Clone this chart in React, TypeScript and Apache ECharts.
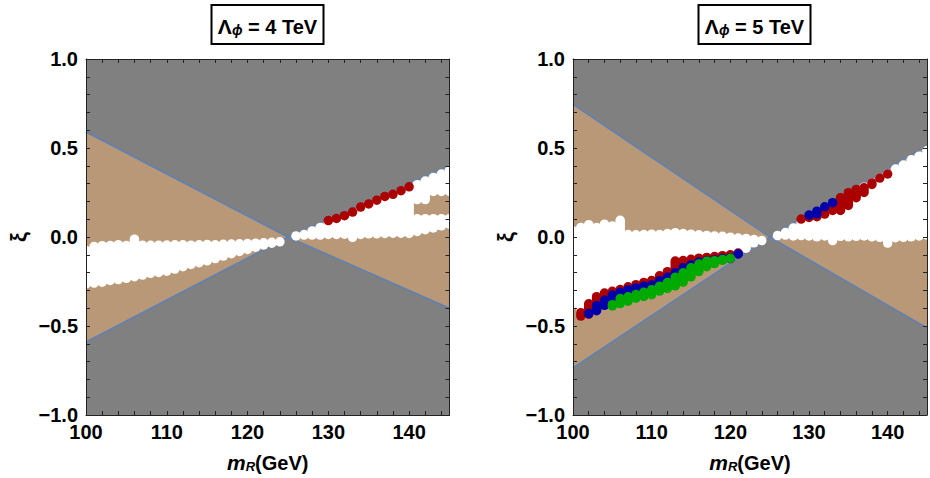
import React, { useEffect, useRef } from "react";
import * as echarts from "echarts";

// ---------- data ----------
const mRange = [100, 145];
const xiRange = [-1, 1];

// boundary lines of the allowed (tan) wedge: m values and xi values
const boundaryM = [100, 125, 145];
const upper4 = [0.59, 0, -0.4];
const lower4 = [-0.59, 0, 0.4];
const upper5 = [0.745, 0, -0.51];
const lower5 = [-0.735, 0, 0.51];

// Lambda = 4 TeV : white points, per column (m, lowest centre, highest centre)
const whiteM4 = [
  100, 101, 102, 103, 104, 105, 106, 107, 108, 109, 110, 111, 112, 113, 114, 115, 116, 117, 118, 119, 120, 121, 122, 123, 124,
  126, 127, 128, 129, 130, 131, 132, 133, 134, 135, 136, 137, 138, 139, 140,
  141, 141, 142, 142, 143, 143, 144, 144, 145, 145,
];
const whiteLo4 = [
  -0.264, -0.259, -0.254, -0.244, -0.239, -0.232, -0.223, -0.214, -0.204, -0.199, -0.192, -0.18, -0.167, -0.154, -0.144, -0.134, -0.121, -0.107, -0.094, -0.081, -0.07, -0.057, -0.045, -0.035, -0.027,
  0.006, 0.011, 0.011, 0.011, 0.014, 0.014, 0.016, -0.002, 0.014, 0.018, 0.018, 0.02, 0.021, 0.021, 0.02,
  0.031, 0.21, 0.041, 0.21, 0.051, 0.256, 0.063, 0.256, 0.072, 0.256,
];
const whiteHi4 = [
  -0.076, -0.054, -0.049, -0.048, -0.043, -0.048, -0.012, -0.046, -0.047, -0.046, -0.045, -0.044, -0.044, -0.046, -0.044, -0.042, -0.044, -0.041, -0.04, -0.038, -0.037, -0.035, -0.033, -0.03, -0.027,
  0.006, 0.014, 0.034, 0.054, 0.074, 0.094, 0.114, 0.134, 0.154, 0.174, 0.194, 0.214, 0.234, 0.254, 0.274,
  0.103, 0.294, 0.103, 0.314, 0.103, 0.334, 0.103, 0.354, 0.103, 0.374,
];
// Lambda = 4 TeV : red points
const redM4 = [130, 131, 132, 133, 134, 135, 136, 137, 138, 139, 140];
const redXi4 = [0.092, 0.104, 0.12, 0.14, 0.168, 0.186, 0.207, 0.228, 0.24, 0.26, 0.282];

// Lambda = 5 TeV : white points
const whiteM5 = [
  100, 101, 102, 103, 104, 105, 106, 107, 108, 109, 110, 111, 112, 113, 114, 115, 116, 117, 118, 119, 120, 121, 122, 123, 124,
  126, 127, 128, 129, 130, 131, 132, 133, 134, 135, 136, 137, 138, 139, 140, 141, 142, 143, 144, 145,
];
const whiteLo5 = [
  -0.374, -0.425, -0.375, -0.335, -0.315, -0.305, -0.295, -0.28, -0.268, -0.255, -0.245, -0.218, -0.195, -0.135, -0.132, -0.125, -0.119, -0.115, -0.11, -0.105, -0.1, -0.09, -0.063, -0.033, -0.02,
  0.008, 0.011, 0.006, 0.008, 0.006, 0.001, 0.006, -0.02, 0.004, 0.001, 0.004, 0.006, 0.001, -0.002, -0.034, -0.004, -0.002, 0.001, 0.006, 0.011,
];
const whiteHi5 = [
  0.034, 0.054, 0.069, 0.054, 0.072, 0.062, 0.094, 0.014, 0.012, 0.014, 0.016, 0.014, 0.019, 0.024, 0.019, 0.016, 0.012, 0.009, 0.006, 0.004, -0.001, -0.006, -0.008, -0.014, -0.02,
  0.008, 0.025, 0.05, 0.076, 0.1, 0.127, 0.152, 0.178, 0.203, 0.229, 0.254, 0.28, 0.304, 0.331, 0.354, 0.382, 0.404, 0.434, 0.454, 0.484,
];
// Lambda = 5 TeV : red points
const redM5 = [
  101, 102, 103, 104, 105, 106, 107, 108, 109, 110, 111, 112, 113, 114, 115, 116, 117, 118, 119, 120, 121,
  129, 130, 131, 132, 133, 134, 135, 136, 137, 138, 139, 140,
];
const redLo5 = [
  -0.444, -0.434, -0.4, -0.37, -0.326, -0.311, -0.296, -0.286, -0.276, -0.269, -0.246, -0.226, -0.201, -0.173, -0.156, -0.141, -0.133, -0.129, -0.121, -0.116, -0.095,
  0.101, 0.11, 0.114, 0.129, 0.149, 0.149, 0.177, 0.221, 0.25, 0.295, 0.331, 0.354,
];
const redHi5 = [
  -0.425, -0.375, -0.335, -0.315, -0.305, -0.295, -0.28, -0.268, -0.255, -0.245, -0.218, -0.195, -0.135, -0.132, -0.125, -0.119, -0.115, -0.11, -0.105, -0.1, -0.09,
  0.101, 0.11, 0.125, 0.15, 0.175, 0.22, 0.249, 0.267, 0.276, 0.304, 0.331, 0.354,
];
// Lambda = 5 TeV : blue points
const blueM5 = [102, 103, 104, 105, 106, 107, 108, 109, 110, 111, 112, 113, 114, 115, 116, 117, 118, 119, 120, 121, 130, 131, 132, 133];
const blueLo5 = [
  -0.43, -0.414, -0.384, -0.38, -0.346, -0.336, -0.323, -0.311, -0.296, -0.276, -0.256, -0.226, -0.201, -0.173, -0.152, -0.136, -0.133, -0.126, -0.121, -0.095,
  0.123, 0.13, 0.17, 0.193,
];
const blueHi5 = [
  -0.43, -0.386, -0.356, -0.326, -0.311, -0.296, -0.286, -0.276, -0.269, -0.246, -0.226, -0.201, -0.173, -0.156, -0.141, -0.133, -0.129, -0.121, -0.116, -0.095,
  0.123, 0.145, 0.17, 0.193,
];
// Lambda = 5 TeV : green points
const greenM5 = [105, 106, 107, 108, 109, 110, 111, 112, 113, 114, 115, 116, 117, 118, 119, 120];
const greenLo5 = [-0.387, -0.374, -0.361, -0.344, -0.334, -0.324, -0.304, -0.289, -0.274, -0.254, -0.224, -0.194, -0.167, -0.149, -0.131, -0.12];
const greenHi5 = [-0.38, -0.346, -0.336, -0.323, -0.311, -0.296, -0.276, -0.256, -0.226, -0.201, -0.173, -0.152, -0.136, -0.133, -0.126, -0.12];

const panelTitles = ["4", "5"];

// ---------- styles ----------
const FONT = "'Liberation Sans', Arial, Helvetica, sans-serif";
const GRAY = "#808080";
const TAN = "#b99877";
const LINE = "#5e81b5";
const FRAME = "#222";
const R = 4.75;

const zip3 = (a: number[], b: number[], c: number[]) => a.map((v, i) => [v, b[i], c[i]]);

function capsuleSeries(name: string, gi: number, data: number[][], color: string, z: number) {
  return {
    name,
    type: "custom",
    coordinateSystem: "cartesian2d",
    xAxisIndex: gi * 2,
    yAxisIndex: gi * 2,
    clip: true,
    z,
    silent: true,
    encode: { x: 0, y: [1, 2] },
    data,
    renderItem: (params: any, api: any) => {
      const m = api.value(0);
      const lo = api.value(1);
      const hi = api.value(2);
      const top = api.coord([m, hi]);
      const bot = api.coord([m, lo]);
      return {
        type: "rect",
        shape: { x: top[0] - R, y: top[1] - R, width: 2 * R, height: bot[1] - top[1] + 2 * R, r: R },
        style: { fill: color },
      };
    },
  };
}

function wedgeSeries(gi: number, up: number[], lo: number[]) {
  return {
    type: "custom",
    coordinateSystem: "cartesian2d",
    xAxisIndex: gi * 2,
    yAxisIndex: gi * 2,
    clip: true,
    z: 1,
    silent: true,
    data: [[boundaryM[1], up[1]]],
    renderItem: (params: any, api: any) => {
      const left = [
        api.coord([boundaryM[0], up[0]]),
        api.coord([boundaryM[1], up[1]]),
        api.coord([boundaryM[0], lo[0]]),
      ];
      const right = [
        api.coord([boundaryM[1], up[1]]),
        api.coord([boundaryM[2], lo[2]]),
        api.coord([boundaryM[2], up[2]]),
      ];
      return {
        type: "group",
        children: [
          { type: "polygon", shape: { points: left }, style: { fill: TAN } },
          { type: "polygon", shape: { points: right }, style: { fill: TAN } },
        ],
      };
    },
  };
}

function lineSeries(gi: number, ys: number[]) {
  return {
    type: "line",
    xAxisIndex: gi * 2,
    yAxisIndex: gi * 2,
    data: boundaryM.map((m, i) => [m, ys[i]]),
    symbol: "none",
    lineStyle: { color: LINE, width: 1.5 },
    z: 2,
    silent: true,
  };
}

const labelStyle = { fontSize: 20, fontWeight: "bold", color: "#000", fontFamily: FONT };

function xAxes(gi: number) {
  const base = {
    gridIndex: gi,
    type: "value",
    min: mRange[0],
    max: mRange[1],
    interval: 2,
    z: 10,
    axisLine: { show: true, onZero: false, lineStyle: { color: FRAME, width: 1 } },
    axisTick: { show: true, inside: true, length: 4, lineStyle: { color: FRAME } },
    splitLine: { show: false },
  };
  return [
    {
      ...base,
      position: "bottom",
      axisLabel: {
        ...labelStyle,
        margin: 7,
        formatter: (v: number) => (Math.round(v) % 10 === 0 ? String(Math.round(v)) : ""),
      },
      name: "{m|m}{r|R}{g|(GeV)}",
      nameLocation: "middle",
      nameGap: 34,
      nameTextStyle: {
        rich: {
          m: { fontSize: 21, fontStyle: "italic", fontWeight: "bold", fontFamily: FONT, color: "#000", verticalAlign: "bottom", lineHeight: 24 },
          r: { fontSize: 13, fontStyle: "italic", fontWeight: "bold", fontFamily: FONT, color: "#000", verticalAlign: "bottom", lineHeight: 10 },
          g: { fontSize: 20, fontWeight: "bold", fontFamily: FONT, color: "#000", verticalAlign: "bottom", lineHeight: 24 },
        },
      },
    },
    { ...base, position: "top", axisLabel: { show: false } },
  ];
}

function yAxes(gi: number) {
  const base = {
    gridIndex: gi,
    type: "value",
    min: xiRange[0],
    max: xiRange[1],
    interval: 0.1,
    z: 10,
    axisLine: { show: true, onZero: false, lineStyle: { color: FRAME, width: 1 } },
    axisTick: { show: true, inside: true, length: 4, lineStyle: { color: FRAME } },
    splitLine: { show: false },
  };
  return [
    {
      ...base,
      position: "left",
      axisLabel: {
        ...labelStyle,
        margin: 8,
        formatter: (v: number) => {
          const k = Math.round(v * 10);
          if (k % 5 !== 0) return "";
          return (k < 0 ? "\u2212" : "") + (Math.abs(k) / 10).toFixed(1);
        },
      },
      name: "\u03be",
      nameLocation: "middle",
      nameRotate: 90,
      nameGap: 57,
      nameTextStyle: { fontSize: 22, fontFamily: FONT, color: "#000", fontWeight: "bold" },
    },
    { ...base, position: "right", axisLabel: { show: false } },
  ];
}

function titleBox(cx: number, label: string) {
  return [
    {
      type: "rect",
      shape: { x: cx - 56, y: 5, width: 112, height: 39 },
      style: { fill: "#fff", stroke: "#000", lineWidth: 2 },
      z: 20,
    },
    {
      type: "text",
      x: cx,
      y: 25,
      z: 21,
      style: {
        text: `{a|\u039b}{b|\u03d5}{c| = ${label} TeV}`,
        align: "center",
        verticalAlign: "middle",
        rich: {
          a: { fontSize: 21, fontWeight: "bold", fontFamily: FONT, fill: "#000", verticalAlign: "bottom", lineHeight: 24 },
          b: { fontSize: 14, fontWeight: "bold", fontStyle: "italic", fontFamily: FONT, fill: "#000", verticalAlign: "bottom", lineHeight: 8 },
          c: { fontSize: 20, fontWeight: "bold", fontFamily: FONT, fill: "#000", verticalAlign: "bottom", lineHeight: 24 },
        },
      },
    },
  ];
}

export default function App() {
  const ref = useRef<HTMLDivElement>(null);
  useEffect(() => {
    if (!ref.current) return;
    const chart = echarts.init(ref.current, null, { renderer: "svg" });
    const gridBase = { top: 59, height: 362.5, show: true, backgroundColor: GRAY, borderWidth: 0 };
    chart.setOption({
      animation: false,
      grid: [
        { ...gridBase, left: 86, width: 363.5 },
        { ...gridBase, left: 573, width: 363 },
      ],
      xAxis: [...xAxes(0), ...xAxes(1)],
      yAxis: [...yAxes(0), ...yAxes(1)],
      graphic: [...titleBox(267.5, panelTitles[0]), ...titleBox(754.5, panelTitles[1])],
      series: [
        wedgeSeries(0, upper4, lower4),
        lineSeries(0, upper4),
        lineSeries(0, lower4),
        capsuleSeries("white4", 0, zip3(whiteM4, whiteLo4, whiteHi4), "#ffffff", 3),
        capsuleSeries("red4", 0, zip3(redM4, redXi4, redXi4), "#aa0000", 4),
        wedgeSeries(1, upper5, lower5),
        lineSeries(1, upper5),
        lineSeries(1, lower5),
        capsuleSeries("white5", 1, zip3(whiteM5, whiteLo5, whiteHi5), "#ffffff", 3),
        capsuleSeries("red5", 1, zip3(redM5, redLo5, redHi5), "#aa0000", 4),
        capsuleSeries("blue5", 1, zip3(blueM5, blueLo5, blueHi5), "#0000aa", 5),
        capsuleSeries("green5", 1, zip3(greenM5, greenLo5, greenHi5), "#00aa00", 6),
      ],
    });
    return () => chart.dispose();
  }, []);
  return (
    <div
      ref={ref}
      style={{ position: "fixed", left: 0, top: 0, width: 930, height: 478, background: "#fff" }}
    />
  );
}
